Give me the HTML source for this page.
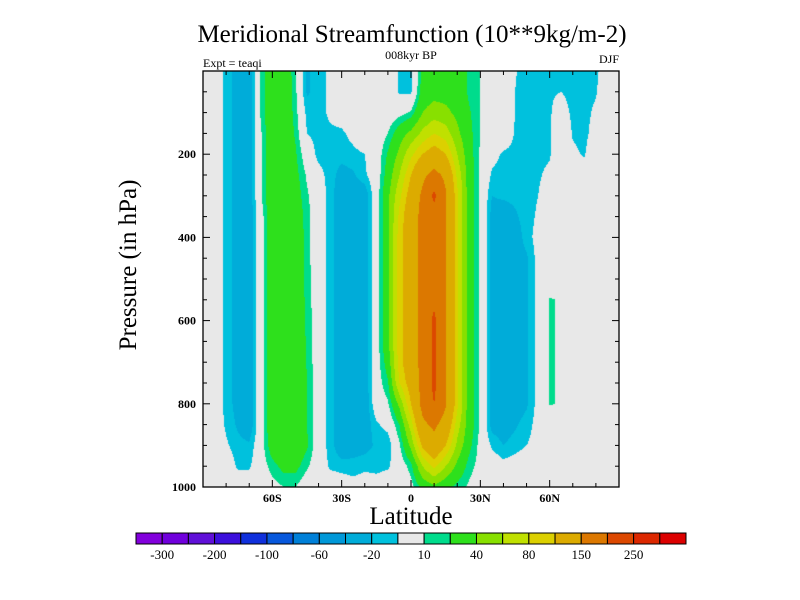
<!DOCTYPE html>
<html><head><meta charset="utf-8">
<style>
html,body{margin:0;padding:0;background:#fff;}
#wrap{position:relative;width:800px;height:600px;overflow:hidden;font-family:"Liberation Serif",serif;}
canvas{position:absolute;left:0;top:0;}
svg{position:absolute;left:0;top:0;}
</style></head>
<body>
<div id="wrap">
<canvas id="field" width="800" height="600"></canvas>
<svg id="svg" width="800" height="600" xmlns="http://www.w3.org/2000/svg">
<text x="412" y="42" font-size="25" text-anchor="middle" font-family="Liberation Serif, serif">Meridional Streamfunction (10**9kg/m-2)</text>
<text x="411" y="59" font-size="12" text-anchor="middle" font-family="Liberation Serif, serif">008kyr BP</text>
<text x="203" y="67" font-size="12" font-family="Liberation Serif, serif">Expt = teaqi</text>
<text x="619" y="63" font-size="12" text-anchor="end" font-family="Liberation Serif, serif">DJF</text>
<text x="0" y="0" font-size="25" text-anchor="middle" transform="translate(136,265) rotate(-90)" font-family="Liberation Serif, serif">Pressure (in hPa)</text>
<text x="411" y="524" font-size="25" text-anchor="middle" font-family="Liberation Serif, serif">Latitude</text>
<g id="axes"></g>
<g id="cbar"></g>
</svg>
</div>
<script>
// ---- data: streamfunction at lat nodes (-90..90 step 5) x pressure nodes (0..1000 step 50) ----
const lats = [-90,-85,-80,-75,-70,-65,-60,-55,-50,-45,-40,-35,-30,-25,-20,-15,-10,-5,0,5,10,15,20,25,30,35,40,45,50,55,60,65,70,75,80,85,90];
const pressures = [0,50,100,150,200,250,300,350,400,450,500,550,600,650,700,750,800,850,900,950,1000];
const psiByLat = [
[0,0,0,0,0,0,0,0,0,0,0,0,0,0,0,0,0,0,0,0,0],
[0,0,0,0,0,0,0,0,0,0,0,0,0,0,0,0,0,0,0,0,0],
[-14,-14,-14,-14,-14,-14,-14,-14,-14,-14,-14,-14,-14,-14,-14,-14,-14,-12,-8,0,0],
[-25,-25,-25,-25,-25,-25,-25,-25,-25,-25,-25,-25,-25,-25,-25,-25,-25,-22,-16,-12,0],
[-30,-30,-30,-30,-30,-30,-30,-30,-30,-30,-30,-30,-30,-30,-30,-30,-30,-30,-18,-12,0],
[12,12,12,8,8,8,8,2,2,2,2,2,2,2,2,2,2,2,2,2,0],
[35,35,35,35,35,35,35,35,35,35,35,35,35,35,35,35,35,35,30,15,5],
[35,35,35,35,35,35,35,35,35,35,35,35,35,35,35,35,35,35,35,25,10],
[12,13,15,18,22,25,28,32,35,35,35,35,35,35,35,35,35,35,35,25,10],
[-22,-22,-14,-10,0,8,12,14,14,14,15,16,17,18,19,20,20,20,22,12,0],
[-14,-14,-14,-14,-14,-5,0,0,0,0,0,0,0,0,0,0,0,0,0,0,0],
[-8,-8,-8,-12,-14,-15,-15,-15,-15,-15,-15,-15,-15,-15,-15,-15,-15,-15,-15,-12,0],
[0,0,-4,-12,-16,-25,-30,-30,-30,-30,-30,-30,-30,-30,-30,-30,-30,-30,-30,-15,0],
[0,0,0,-6,-13,-22,-30,-30,-30,-30,-30,-30,-30,-30,-30,-30,-30,-30,-28,-15,-5],
[0,0,0,0,-10,-12,-30,-30,-30,-30,-30,-30,-30,-30,-30,-30,-30,-30,-25,-13,-2],
[0,0,0,0,0,0,2,2,2,2,2,2,2,2,2,2,0,-12,-18,-14,-3],
[0,0,0,10,22,28,35,35,35,35,35,35,35,35,28,18,8,-5,-18,-12,0],
[-12,-12,5,30,45,60,75,85,90,90,90,90,90,90,90,80,45,20,8,0,0],
[-12,-12,12,45,75,100,115,125,125,125,125,125,125,125,125,115,100,70,45,15,5],
[25,28,40,65,100,140,160,165,165,165,165,165,165,165,165,165,165,140,105,60,25],
[30,32,50,80,115,165,210,180,185,185,185,190,210,210,210,210,200,160,130,85,35],
[30,32,45,70,100,140,155,155,155,155,155,155,155,155,155,155,155,130,100,60,25],
[30,30,35,45,60,75,85,85,85,85,85,85,85,85,85,85,85,70,55,35,15],
[18,18,22,25,28,30,30,30,30,30,30,30,30,30,30,30,30,30,25,15,8],
[10,10,10,10,8,8,8,8,8,8,8,8,8,8,8,8,8,8,5,5,0],
[0,0,0,0,-5,-12,-20,-25,-25,-25,-25,-25,-25,-25,-25,-25,-25,-25,-12,0,0],
[0,0,0,0,-12,-15,-18,-28,-28,-28,-28,-28,-28,-28,-28,-28,-28,-28,-20,-5,0],
[-9,-10,-10,-11,-13,-15,-17,-22,-28,-28,-28,-28,-28,-28,-28,-28,-28,-22,-15,-3,0],
[-15,-15,-15,-15,-15,-15,-15,-15,-15,-22,-22,-22,-22,-22,-22,-22,-22,-15,-10,0,0],
[-15,-15,-14,-13,-12,-11,-10,-8,-5,-5,-5,-5,-5,-5,-5,-5,-5,-5,-5,0,0],
[-11,-11,-11,-11,-11,-8,-5,0,0,0,0,11,11,11,11,11,11,0,0,0,0],
[-12,-10,-5,0,0,0,0,0,0,0,0,9,9,9,9,9,9,0,0,0,0],
[-14,-13,-12,-11,-8,0,0,0,0,0,0,0,0,0,0,0,0,0,0,0,0],
[-14,-13,-13,-13,-11,-5,0,0,0,0,0,0,0,0,0,0,0,0,0,0,0],
[-13,-11,-8,-5,0,0,0,0,0,0,0,0,0,0,0,0,0,0,0,0,0],
[0,0,0,0,0,0,0,0,0,0,0,0,0,0,0,0,0,0,0,0,0],
[0,0,0,0,0,0,0,0,0,0,0,0,0,0,0,0,0,0,0,0,0]
];
const levels = [-300,-250,-200,-150,-100,-80,-60,-40,-20,-10,10,20,40,60,80,100,150,200,250,300];
const levelLabels = ["-300","-200","-100","-60","-20","10","40","80","150","250"];
const levelLabelIdx = [0,2,4,6,8,10,12,14,16,18];
const colors = ["#8200dc","#7000dc","#6010d8","#3c10dc","#1030dc","#0858dc","#0080d8","#0098d8","#00acd9","#00c1dd","#e8e8e8","#00dc8c","#2ee01c","#88e000","#c0e000","#dcd000","#dcab00","#dc7800","#dc4800","#dc2800","#dc0000"];
const pressureTicks = [200,400,600,800,1000];
const latTicks = [-60,-30,0,30,60];
const latTickLabels = ["60S","30S","0","30N","60N"];

// ---- axes ----
const X0=203, X1=619, Y0=71, Y1=487;
function xOf(lat){return X0+(lat+90)/180*(X1-X0);}
function yOf(p){return Y0+p/1000*(Y1-Y0);}
function latOf(x){return (x-X0)/(X1-X0)*180-90;}
function pOf(y){return (y-Y0)/(Y1-Y0)*1000;}
function colorFor(v){let i=0;while(i<levels.length&&v>=levels[i])i++;return colors[i];}
function sample(lat,p){
  let fi=(lat-lats[0])/5, fj=(p-pressures[0])/50;
  fi=Math.max(0,Math.min(lats.length-1.0001,fi)); fj=Math.max(0,Math.min(pressures.length-1.0001,fj));
  const i=Math.floor(fi), j=Math.floor(fj), a=fi-i, b=fj-j;
  const v00=psiByLat[i][j], v10=psiByLat[i+1][j], v01=psiByLat[i][j+1], v11=psiByLat[i+1][j+1];
  return (v00*(1-a)+v10*a)*(1-b)+(v01*(1-a)+v11*a)*b;
}
const cv=document.getElementById('field'), ctx=cv.getContext('2d');
for(let y=Y0;y<Y1;y++){
  for(let x=X0;x<X1;x++){
    ctx.fillStyle=colorFor(sample(latOf(x+0.5),pOf(y+0.5)));
    ctx.fillRect(x,y,1,1);
  }
}
const NS='http://www.w3.org/2000/svg';
const axes=document.getElementById('axes');
function mk(tag,attrs,parent){const e=document.createElementNS(NS,tag);for(const k in attrs)e.setAttribute(k,attrs[k]);parent.appendChild(e);return e;}
const frame=mk('rect',{x:X0,y:Y0,width:X1-X0,height:Y1-Y0,fill:'none',stroke:'#000','stroke-width':1.3},axes);


for(let lat=-80;lat<=80;lat+=10){
  const major=latTicks.indexOf(lat)>=0, L=major?7:4, x=xOf(lat);
  const t1=mk('line',{x1:x,y1:Y1,x2:x,y2:Y1-L,stroke:'#000','stroke-width':1},axes);
  
  
  const t2=mk('line',{x1:x,y1:Y0,x2:x,y2:Y0+L,stroke:'#000','stroke-width':1},axes);
  
  
}
for(let p=50;p<1000;p+=50){
  const major=pressureTicks.indexOf(p)>=0, L=major?7:4, y=yOf(p);
  const t1=mk('line',{x1:X0,y1:y,x2:X0+L,y2:y,stroke:'#000','stroke-width':1},axes);
  
  
  const t2=mk('line',{x1:X1,y1:y,x2:X1-L,y2:y,stroke:'#000','stroke-width':1},axes);
  
  
}
pressureTicks.forEach(p=>{
  const t=mk('text',{x:196,y:yOf(p)+4,'font-size':12,'font-weight':'bold','text-anchor':'end','font-family':'Liberation Serif, serif'},axes);
  t.textContent=String(p);
  
  
});
latTicks.forEach((lat,i)=>{
  const t=mk('text',{x:xOf(lat),y:502,'font-size':12,'font-weight':'bold','text-anchor':'middle','font-family':'Liberation Serif, serif'},axes);
  t.textContent=latTickLabels[i];
  
  
});
// ---- colorbar ----
const cb=document.getElementById('cbar');
const CB0=136, CB1=686, CBY=533, CBH=11, bw=(CB1-CB0)/colors.length;
colors.forEach((c,i)=>{
  const r=mk('rect',{x:CB0+i*bw,y:CBY,width:bw,height:CBH,fill:c,stroke:'#000','stroke-width':1},cb);
  
  
});
levelLabelIdx.forEach((li,k)=>{
  const t=mk('text',{x:CB0+(li+1)*bw,y:559,'font-size':13,'text-anchor':'middle','font-family':'Liberation Serif, serif'},cb);
  t.textContent=levelLabels[k];
  
  
});
</script>
</body></html>
